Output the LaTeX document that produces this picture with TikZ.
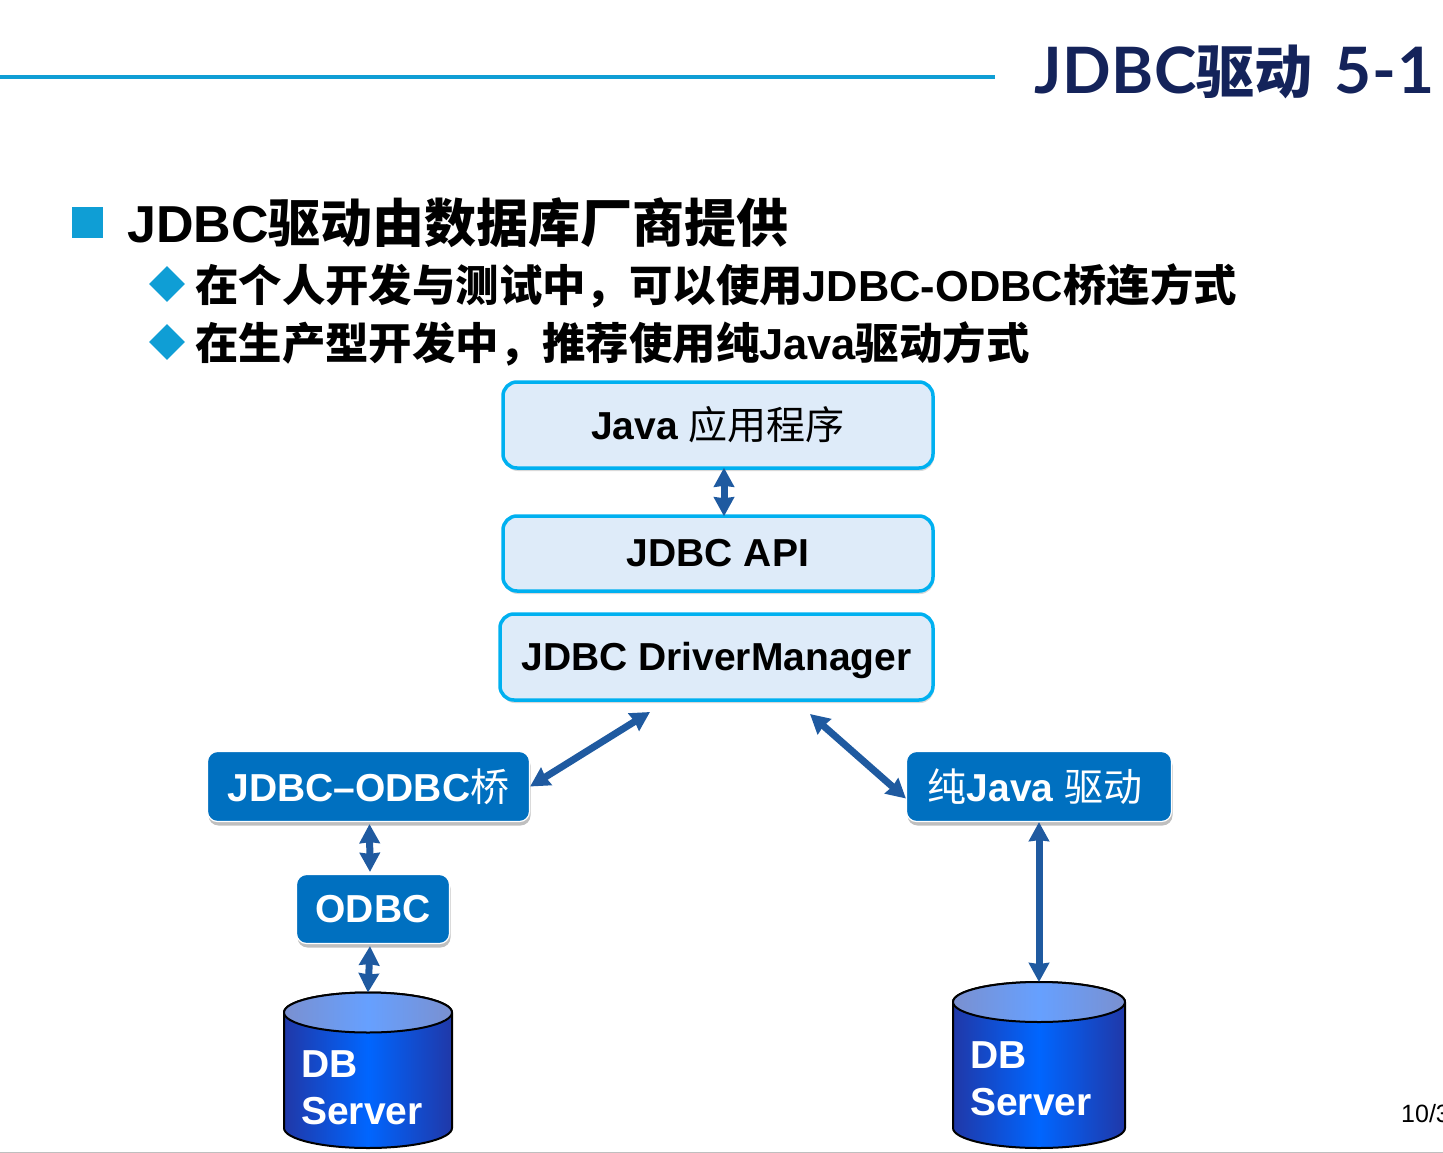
\documentclass[tikz,border=0pt]{standalone}
\usepackage{fontspec}
\setmainfont{Liberation Sans}
\newfontfamily\cjk{Noto Sans CJK SC}
\newfontfamily\titlefont[LetterSpace=1]{Lato}
\usetikzlibrary{arrows.meta,calc,shadows,shapes.geometric}
\definecolor{headblue}{HTML}{0F9ED5}
\definecolor{titlenavy}{HTML}{14235A}
\definecolor{lightbox}{HTML}{DEEBF9}
\definecolor{edgecyan}{HTML}{00B0F0}
\definecolor{midblue}{HTML}{0070C0}
\definecolor{arrowblue}{HTML}{1F5AA0}
\definecolor{cylside}{HTML}{2038A8}
\definecolor{cylmid}{HTML}{0066FF}
\definecolor{cyltopside}{HTML}{7A90D0}
\definecolor{cyltopmid}{HTML}{66A0FF}
\pgfdeclarehorizontalshading{cylbody}{100bp}{color(0bp)=(cylside); color(25bp)=(cylside); color(50bp)=(cylmid); color(75bp)=(cylside); color(100bp)=(cylside)}
\pgfdeclarehorizontalshading{cyltop}{100bp}{color(0bp)=(cyltopside); color(25bp)=(cyltopside); color(50bp)=(cyltopmid); color(75bp)=(cyltopside); color(100bp)=(cyltopside)}
\tikzset{
    lab/.style={
        inner sep=0pt, anchor=base west
    },
    lightnode/.style={
        draw=edgecyan, line width=3.5pt, fill=lightbox, rounded corners=14pt,
        font=\fontsize{39}{46}\selectfont\bfseries,
        drop shadow={shadow xshift=1pt,shadow yshift=-3pt,opacity=0.3}
    },
    bluenode/.style={
        draw=white, line width=1.2pt, fill=midblue, text=white, rounded corners=10pt,
        font=\fontsize{39}{46}\selectfont\bfseries,
        drop shadow={shadow xshift=1pt,shadow yshift=-4pt,opacity=0.5}
    },
    link/.style={
        {Stealth[length=19pt,width=20pt,inset=1pt]}-{Stealth[length=19pt,width=20pt,inset=1pt]},
        line width=7pt, color=arrowblue
    },
    bullet/.style={
        diamond, fill=headblue, inner sep=0pt, minimum width=36pt, minimum height=36pt
    }
}

\begin{document}
\begin{tikzpicture}[x=1pt,y=-1pt, line join=round]
\useasboundingbox (0,0) rectangle (1443,1153);
\begin{scope}
\clip (0,0) rectangle (1443,1153);

% header
\draw[headblue, line width=4pt] (0,77) -- (995,77);
\node[lab, text=titlenavy, font=\fontsize{64}{74}\selectfont\bfseries] (title) at (1034,94) {{\titlefont JDBC}{\fontsize{58}{64}\selectfont\cjk 驱动}\hspace{22pt}{\titlefont 5-1}};

% bullets
\fill[headblue] (72,207) rectangle (103,238);
\node[lab, font=\fontsize{52}{60}\selectfont\bfseries] (head) at (127,242) {JDBC{\cjk 驱动由数据库厂商提供}};
\node[bullet] (markA) at (167,284) {};
\node[bullet] (markB) at (167,342) {};
\node[lab, font=\fontsize{43.4}{50}\selectfont\bfseries] (lineA) at (195,301) {{\cjk 在个人开发与测试中，可以使用}JDBC-ODBC{\cjk 桥连方式}};
\node[lab, font=\fontsize{43.4}{50}\selectfont\bfseries] (lineB) at (195,359) {{\cjk 在生产型开发中，推荐使用纯}Java{\cjk 驱动方式}};

% upper stack
\node[lightnode, minimum width=430pt, minimum height=86pt] (java) at (718,425) {\raisebox{1pt}{Java {\cjk\mdseries 应用程序}}};
\node[lightnode, minimum width=430pt, minimum height=75pt] (api) at (718,553.5) {JDBC API};
\node[lightnode, minimum width=433pt, minimum height=86pt, text depth=2pt] (manager) at (716.5,657) {JDBC DriverManager};

% drivers
\node[bluenode, minimum width=322pt, minimum height=70pt] (bridge) at (368.5,786.5) {\raisebox{2pt}{JDBC--ODBC{\cjk\mdseries 桥}}};
\node[bluenode, minimum width=265pt, minimum height=70pt] (pure) at (1039,786.5) {\raisebox{2pt}{{\cjk\mdseries 纯}Java {\cjk\mdseries 驱动}}\hspace*{8pt}};
\node[bluenode, minimum width=153pt, minimum height=69pt] (odbc) at (373,909) {ODBC};

% cylinders
\foreach \xa/\xb/\yt/\yb/\nm/\ty in {284/452/1012.5/1128/dbL/1124, 953/1125/1002/1128/dbR/1115} {
  \pgfmathsetmacro{\rx}{(\xb-\xa)/2}
  \pgfmathsetmacro{\xc}{(\xb+\xa)/2}
  \path[draw=black, line width=2pt, shading=cylbody]
    (\xa,\yt) -- (\xa,\yb) arc[start angle=180, end angle=360, x radius=\rx, y radius=-20] -- (\xb,\yt)
    arc[start angle=0, end angle=180, x radius=\rx, y radius=-20] -- cycle;
  \path[draw=black, line width=2pt, shading=cyltop]
    (\xc,\yt) ellipse[x radius=\rx, y radius=20];
  \coordinate (\nm) at (\xc,\yt-20);
  \node[lab, align=left, text=white, font=\fontsize{39}{47}\selectfont\bfseries] (\nm text) at (\xa+17,\ty) {DB\\Server};
}

% links
\coordinate (managerL) at (650,712);
\coordinate (managerR) at (810,714);
\draw[link] ($(java.south)+(6,-2)$) -- ($(api.north)+(6,2)$);
\draw[link] (bridge.east) -- (managerL);
\draw[link] ($(pure.west)+(0,12)$) -- (managerR);
\draw[link] ($(bridge.south)+(1,2)$) -- ($(odbc.north)+(-3,-2)$);
\draw[link] ($(odbc.south)+(-3,2)$) -- (dbL);
\draw[link] (pure.south) -- (dbR);

% footer
\node[lab, font=\fontsize{25}{30}\selectfont] (pagenum) at (1401,1122) {10/3};
\draw[gray!50, line width=1pt] (0,1152) -- (1443,1152);
\end{scope}
\end{tikzpicture}
\end{document}
